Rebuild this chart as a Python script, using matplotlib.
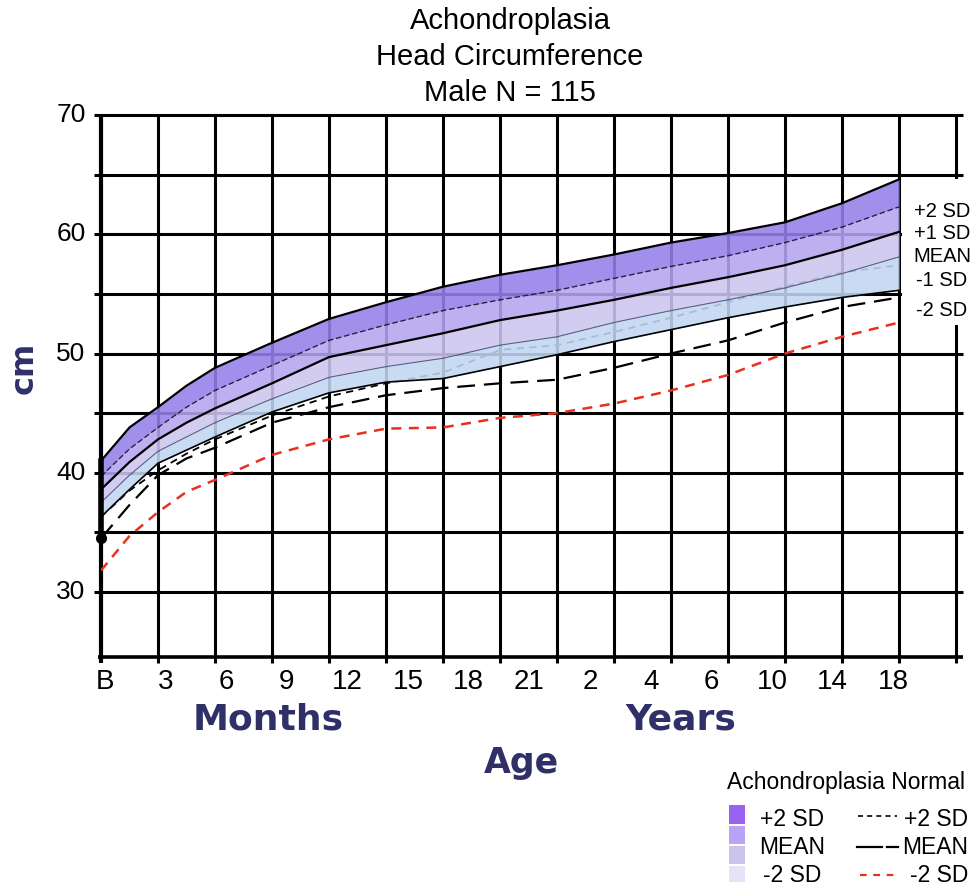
import matplotlib.pyplot as plt
from matplotlib.patches import Rectangle
from matplotlib.lines import Line2D

plt.rcParams['font.family'] = ['Liberation Sans', 'DejaVu Sans']

# grid positions (one column per age label step), half steps where the curves bend
pos = [0, 0.5, 1, 1.5, 2, 3, 4, 5, 6, 7, 8, 9, 10, 11, 12, 13, 14]
tick_labels = ['B', '3', '6', '9', '12', '15', '18', '21', '2', '4', '6', '10', '14', '18']

# achondroplasia percentiles (cm)
ach_p2 = [41.0, 43.8, 45.5, 47.3, 48.8, 50.9, 52.9, 54.3, 55.6, 56.6, 57.4, 58.3, 59.3, 60.1, 61.0, 62.6, 64.6]
ach_p1 = [39.7, 42.0, 43.8, 45.5, 46.9, 49.0, 51.1, 52.4, 53.6, 54.5, 55.3, 56.3, 57.3, 58.2, 59.3, 60.6, 62.3]
ach_mean = [38.6, 40.9, 42.8, 44.2, 45.4, 47.5, 49.7, 50.7, 51.7, 52.8, 53.6, 54.5, 55.5, 56.4, 57.4, 58.7, 60.2]
ach_m1 = [37.5, 39.8, 41.8, 43.0, 44.2, 46.2, 48.0, 48.9, 49.6, 50.7, 51.4, 52.6, 53.6, 54.5, 55.5, 56.7, 58.1]
ach_m2 = [36.3, 38.6, 40.8, 41.9, 43.0, 45.1, 46.7, 47.6, 47.9, 48.9, 49.9, 51.0, 52.0, 53.0, 53.9, 54.7, 55.3]

# normal reference curves (cm)
norm_p2 = [36.3, 38.5, 40.2, 41.6, 42.8, 44.8, 46.4, 47.5, 48.4, 50.3, 50.7, 51.8, 53.0, 54.3, 55.6, 56.8, 57.4]
norm_mean = [34.5, 37.3, 39.8, 41.2, 42.1, 44.2, 45.5, 46.5, 47.1, 47.5, 47.8, 48.8, 50.0, 51.1, 52.6, 53.9, 54.7]
norm_m2 = [31.8, 34.7, 36.7, 38.4, 39.4, 41.5, 42.8, 43.7, 43.8, 44.6, 45.0, 45.8, 46.9, 48.2, 50.0, 51.4, 52.6]

navy = '#2f3068'
band_cols = ['#9580ea', '#b5a4f0', '#ccc5f0', '#c2d6f2']
legend_cols = ['#9b62f0', '#b9a3f3', '#ccc3ef', '#e6e2f8']

W, H = 976, 890
fig = plt.figure(figsize=(W / 100, H / 100), dpi=100)
ax = fig.add_axes([101 / W, 1 - 657 / H, (956 - 101) / W, (657 - 115) / H])
ymin = 24.55
ax.set_xlim(0, 15)
ax.set_ylim(ymin, 70)
ax.axis('off')

# grid
for y in range(30, 71, 5):
    ax.hlines(y, -0.12, 15.12, color='black', lw=2.2, clip_on=False, zorder=1)
ax.hlines(ymin, -0.05, 15.12, color='black', lw=2.6, clip_on=False, zorder=1)
for i in range(1, 16):
    ax.vlines(i, ymin - 0.5, 70, color='black', lw=2.2, clip_on=False, zorder=1)
ax.vlines(0, ymin - 0.5, 70, color='black', lw=3.0, clip_on=False, zorder=1)

# normal +2SD sits under the band
ax.plot(pos, norm_p2, color='black', lw=1.3, dashes=(4, 3), zorder=1.5)

# achondroplasia bands
curves = [ach_p2, ach_p1, ach_mean, ach_m1, ach_m2]
for k in range(4):
    ax.fill_between(pos, curves[k + 1], curves[k], color=band_cols[k], alpha=0.88, lw=0, zorder=2)
ax.plot(pos, ach_p2, color='black', lw=1.6, zorder=3)
ax.plot(pos, ach_p1, color='#222244', lw=1.0, dashes=(4, 2), zorder=3)
ax.plot(pos, ach_mean, color='black', lw=1.6, zorder=3)
ax.plot(pos, ach_m1, color='#556080', lw=0.8, zorder=3)
ax.plot(pos, ach_m2, color='black', lw=1.2, zorder=3)

# normal mean and -2SD
ax.plot(pos, norm_mean, color='black', lw=1.6, dashes=(8, 4), zorder=4)
ax.plot(pos, norm_m2, color='#e8301e', lw=1.8, dashes=(4, 3), zorder=4)

# birth marker
ax.plot([0, 0], [norm_mean[0], ach_p2[0]], color='black', lw=4, zorder=5, clip_on=False)
ax.plot([0], [norm_mean[0]], 'o', color='black', ms=7, zorder=5, clip_on=False)

# white panel for right-hand SD labels
ax.add_patch(Rectangle((14.06, 52.4), 1.4, 12.2, facecolor='white', edgecolor='none',
                       zorder=6, clip_on=False))
for lab, yp in zip(['+2 SD', '+1 SD', 'MEAN', '-1 SD', '-2 SD'], [211, 234, 257, 281, 310]):
    fig.text(942 / W, 1 - yp / H, lab, ha='center', va='center', fontsize=14.5, zorder=7)

# axis labels
for v in [30, 40, 50, 60, 70]:
    ax.text(-0.27, v, str(v), ha='right', va='center', fontsize=19, clip_on=False)
xpos = [0.07 + k * (13.9 - 0.07) / 13 for k in range(14)]
for xp, lab in zip(xpos, tick_labels):
    ax.text(xp, 22.45, lab, ha='center', va='center', fontsize=20, clip_on=False)

fig.text(268 / W, 1 - 720 / H, 'Months', ha='center', va='center', fontsize=26,
         fontweight='bold', color=navy, family='DejaVu Sans')
fig.text(681 / W, 1 - 720 / H, 'Years', ha='center', va='center', fontsize=26,
         fontweight='bold', color=navy, family='DejaVu Sans')
fig.text(521 / W, 1 - 763 / H, 'Age', ha='center', va='center', fontsize=25,
         fontweight='bold', color=navy, family='DejaVu Sans')
fig.text(24 / W, 1 - 368 / H, 'cm', ha='center', va='center', fontsize=23,
         fontweight='bold', color=navy, family='DejaVu Sans', rotation=90)

# title
for txt, yp in zip(['Achondroplasia', 'Head Circumference', 'Male N = 115'], [21, 57, 93]):
    fig.text(510 / W, 1 - yp / H, txt, ha='center', va='center', fontsize=21)

# legend
fig.text(846 / W, 1 - 783 / H, 'Achondroplasia Normal', ha='center', va='center', fontsize=16.5)
for col, (y0, y1) in zip(legend_cols, [(805, 824), (826, 844), (846, 864), (866, 882)]):
    fig.patches.append(Rectangle((729 / W, 1 - y1 / H), 16 / W, (y1 - y0) / H,
                                 facecolor=col, edgecolor='none', transform=fig.transFigure))
for lab, yp in zip(['+2 SD', 'MEAN', '-2 SD'], [820, 847, 875]):
    fig.text(792 / W, 1 - yp / H, lab, ha='center', va='center', fontsize=16.5)
    fig.text(968 / W, 1 - yp / H, lab, ha='right', va='center', fontsize=16.5)
fig.lines.append(Line2D([858 / W, 897 / W], [1 - 816 / H] * 2, color='black', lw=1.2,
                        dashes=(3, 2.5), transform=fig.transFigure))
fig.lines.append(Line2D([857 / W, 882 / W], [1 - 847 / H] * 2, color='black', lw=1.6,
                        transform=fig.transFigure))
fig.lines.append(Line2D([887 / W, 898 / W], [1 - 847 / H] * 2, color='black', lw=1.6,
                        transform=fig.transFigure))
fig.lines.append(Line2D([860 / W, 898 / W], [1 - 875 / H] * 2, color='#e8301e', lw=1.6,
                        dashes=(3, 3), transform=fig.transFigure))

fig.savefig('out.png', dpi=100)
